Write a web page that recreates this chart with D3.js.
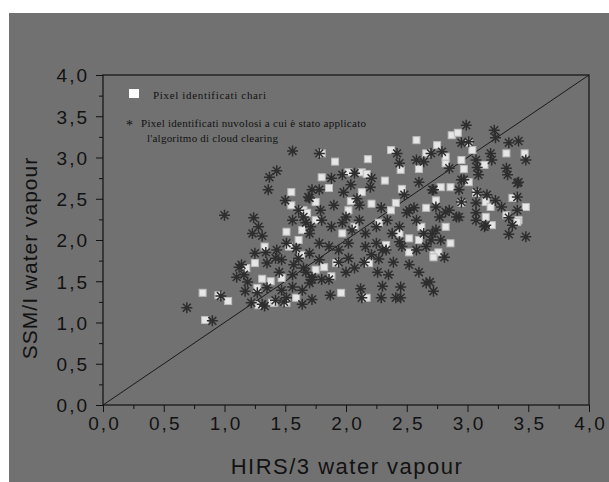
<!DOCTYPE html>
<html>
<head>
<meta charset="utf-8">
<script src="https://cdn.jsdelivr.net/npm/d3@7"></script>
<style>
  body { margin: 0; background: #fff; }
  svg { display: block; }
</style>
</head>
<body>
<svg id="chart" width="609" height="482"></svg>
<script>
// pixels identified as clear (white squares)
const clearPixels = [
  [0.82,1.36],[0.84,1.03],[1.03,1.26],[0.95,1.33],[1.18,1.66],[1.25,1.72],[1.31,1.53],[1.38,1.50],
  [1.27,1.42],[1.28,1.21],[1.39,1.24],[1.51,1.24],[1.55,2.58],[1.55,2.42],[1.65,2.36],[1.75,2.46],
  [1.51,2.10],[1.61,2.00],[1.33,1.92],[1.53,1.92],[1.63,1.82],[1.47,1.54],[1.59,1.30],[1.41,1.24],
  [1.75,1.64],[1.75,2.24],[1.64,2.12],[2.58,3.21],[2.37,3.09],[2.18,2.98],[1.91,2.95],[1.80,3.05],
  [1.80,2.76],[2.02,2.82],[2.13,2.82],[2.17,2.80],[1.86,2.63],[2.32,2.72],[2.13,2.58],[2.45,2.85],
  [2.60,2.86],[2.66,3.05],[2.46,2.62],[2.04,2.47],[2.21,2.44],[2.41,2.45],[1.68,2.33],[2.02,2.36],
  [2.19,1.72],[2.17,1.30],[1.96,1.36],[1.88,1.56],[1.82,1.67],[1.92,1.72],[2.52,1.85],[2.33,1.94],
  [2.60,2.00],[2.75,3.15],[2.87,3.27],[3.01,3.18],[3.04,3.09],[3.32,3.05],[3.47,3.05],[3.14,2.91],
  [2.82,2.93],[2.86,2.64],[3.01,2.70],[3.37,2.51],[3.48,2.40],[3.42,2.24],[3.15,2.28],[3.20,2.18],
  [2.86,1.96],[2.72,1.82],[2.82,2.16],[2.66,2.39],[2.62,2.16],[2.52,2.02],[2.44,2.08],[2.37,2.36],
  [2.27,2.21],[2.07,2.16],[1.97,2.08],[2.92,3.30],[2.82,3.01],[2.95,2.97],[2.97,2.86],[2.78,2.64],
  [3.07,2.57],[3.15,2.46],[2.74,2.48],[2.95,2.45],[3.19,2.40],[3.32,2.30],[3.41,2.22],[2.76,1.85],
  [2.72,1.79]
];

// cloudy pixels after cloud clearing (asterisks)
const cloudPixels = [
  [0.69,1.18],[0.90,1.02],[0.97,1.32],[1.00,2.30],[1.37,2.76],[1.43,2.84],[1.36,2.61],[1.56,3.08],
  [1.12,1.67],[1.16,1.58],[1.19,1.49],[1.17,1.38],[1.27,1.36],[1.33,1.20],[1.42,1.27],[1.49,1.25],
  [1.50,2.48],[1.70,2.51],[1.72,2.61],[1.24,2.27],[1.28,2.16],[1.23,2.08],[1.31,2.05],[1.56,2.24],
  [1.67,2.21],[1.71,2.16],[1.25,1.84],[1.34,1.85],[1.43,1.88],[1.51,1.96],[1.59,1.90],[1.42,1.78],
  [1.47,1.76],[1.14,1.70],[1.10,1.55],[1.35,1.72],[1.45,1.61],[1.56,1.58],[1.65,1.66],[1.72,1.55],
  [1.35,1.42],[1.47,1.39],[1.56,1.43],[1.70,1.48],[1.22,1.24],[1.31,1.22],[1.51,1.30],[1.72,1.28],
  [1.78,3.05],[2.42,3.05],[2.44,2.93],[2.58,2.97],[2.64,2.95],[2.07,2.81],[1.97,2.79],[1.88,2.75],
  [2.21,2.75],[2.04,2.67],[1.98,2.58],[2.20,2.64],[1.78,2.61],[1.69,2.52],[2.09,2.50],[2.48,2.55],
  [2.60,2.70],[1.79,2.36],[1.65,2.28],[2.29,2.39],[2.52,2.36],[2.00,2.28],
  [2.00,1.61],[2.26,1.61],[2.12,1.41],[2.30,1.44],[2.45,1.43],[2.66,1.48],[2.13,1.30],[2.29,1.30],
  [2.41,1.30],[2.45,1.30],[1.87,1.33],[1.64,1.22],[1.64,1.39],[1.72,1.52],[1.80,1.52],[2.27,1.77],
  [2.33,1.88],[2.44,1.98],[1.78,1.76],[1.70,1.84],[1.67,1.61],
  [2.99,3.39],[3.22,3.33],[3.23,3.24],[3.01,3.19],[2.95,3.18],[3.34,3.18],[3.42,3.20],[2.79,3.07],
  [2.70,3.05],[3.48,2.97],[3.19,3.05],[3.07,2.97],[3.20,2.97],[3.08,2.88],[3.32,2.87],[3.09,2.79],
  [3.33,2.79],[2.95,2.73],[3.42,2.70],[2.72,2.61],[3.08,2.58],[3.16,2.55],[3.23,2.48],[3.41,2.52],
  [2.95,2.46],[3.07,2.45],[3.28,2.40],[3.41,2.36],[3.07,2.33],[3.34,2.27],[3.15,2.18],[2.93,2.28],
  [2.82,2.34],[2.74,2.40],[2.85,2.87],[3.34,2.07],[3.48,2.04],[2.81,1.79],[2.78,2.00],[2.72,1.38],
  [2.69,1.49],[2.71,2.08],
  [1.80,2.24],[1.88,2.16],[1.97,2.21],[2.05,2.12],[2.11,2.24],[2.16,2.08],[2.25,2.16],[2.34,2.24],
  [2.38,2.08],[2.44,2.16],[2.50,2.33],[2.56,2.39],[2.58,2.24],[2.64,2.08],[2.70,2.00],[2.74,2.12],
  [2.77,2.28],[2.85,2.36],[2.91,2.28],[2.71,2.61],[2.93,2.61],[2.97,2.73],[2.02,1.96],[2.16,1.92],
  [1.94,1.88],[1.86,1.92],[1.78,1.96],[1.70,2.08],[2.25,1.96],[2.30,1.88],[2.46,1.92],[2.58,1.88],
  [2.66,1.92],[3.14,2.16],[3.07,2.24],[3.41,2.69],[3.37,2.18],
  [1.61,1.78],[1.57,1.70],[1.86,1.52],[1.94,1.73],[2.02,1.78],[2.07,1.66],[2.15,1.73],[2.21,1.82],
  [2.39,1.73],[2.52,1.70],[2.60,1.61],[2.35,1.58],[2.11,2.42],[1.90,2.42],[1.61,2.36]
];

const xTicks = [0, 0.5, 1, 1.5, 2, 2.5, 3, 3.5, 4];
const yTicks = [0, 0.5, 1, 1.5, 2, 2.5, 3, 3.5, 4];
const minorTicks = [0.25, 0.75, 1.25, 1.75, 2.25, 2.75, 3.25, 3.75];
const xTitle = "HIRS/3 water vapour";
const yTitle = "SSM/I water vapour";
const legendClear = "Pixel identificati chari";
const legendCloud = ["Pixel identificati nuvolosi a  cui è stato applicato", "l'algoritmo di cloud clearing"];

const svg = d3.select("#chart");
const plotL = 103, plotR = 589, plotT = 75, plotB = 405;

// grey panel
svg.append("rect").attr("x", 9).attr("y", 13).attr("width", 600).attr("height", 469).attr("fill", "#717171");

const x = d3.scaleLinear().domain([0, 4]).range([plotL, plotR]);
const y = d3.scaleLinear().domain([0, 4]).range([plotB, plotT]);

const fmt = d => d3.format(".1f")(d).replace(".", ",");
const ink = "#121212";
const sans = "Liberation Sans, Arial, sans-serif";

// minor ticks
svg.append("g").attr("transform", `translate(0,${plotB})`)
  .call(d3.axisBottom(x).tickValues(minorTicks).tickSize(4).tickFormat(""))
  .call(g => g.select(".domain").remove());
svg.append("g").attr("transform", `translate(${plotL},0)`)
  .call(d3.axisLeft(y).tickValues(minorTicks).tickSize(4).tickFormat(""))
  .call(g => g.select(".domain").remove());

const xAxis = svg.append("g").attr("transform", `translate(0,${plotB})`)
  .call(d3.axisBottom(x).tickValues(xTicks).tickSize(7).tickPadding(5).tickFormat(fmt));
const yAxis = svg.append("g").attr("transform", `translate(${plotL},0)`)
  .call(d3.axisLeft(y).tickValues(yTicks).tickSize(7).tickPadding(7).tickFormat(fmt));

svg.selectAll(".tick line").attr("stroke", ink);
svg.selectAll(".domain").remove();
[xAxis, yAxis].forEach(a => a.selectAll("text")
  .attr("fill", ink).style("font-family", sans).style("font-size", "19px")
  .style("letter-spacing", "2px"));
xAxis.selectAll("text").attr("dx", "1px");
yAxis.selectAll("text").attr("dy", "0.36em");

// frame
svg.append("rect").attr("x", plotL).attr("y", plotT).attr("width", plotR - plotL).attr("height", plotB - plotT)
  .attr("fill", "none").attr("stroke", ink).attr("stroke-width", 1.2);

// 1:1 line
svg.append("line")
  .attr("x1", x(0)).attr("y1", y(0)).attr("x2", x(4)).attr("y2", y(4))
  .attr("stroke", "#1a1a1a").attr("stroke-width", 1);

// squares
svg.append("g").selectAll("rect").data(clearPixels).join("rect")
  .attr("x", d => x(d[0]) - 3.5).attr("y", d => y(d[1]) - 3.5)
  .attr("width", 7).attr("height", 7)
  .attr("fill", "#e6e6e6").attr("stroke", "#bcbcbc").attr("stroke-width", 1);

// asterisks
const star = r => {
  const a = r * 0.72;
  return `M0,${-r}V${r}M${-r},0H${r}M${-a},${-a}L${a},${a}M${-a},${a}L${a},${-a}`;
};
svg.append("g").selectAll("path").data(cloudPixels).join("path")
  .attr("transform", d => `translate(${x(d[0])},${y(d[1])})`)
  .attr("d", star(5.5))
  .attr("stroke", "#2e2e2e").attr("stroke-width", 1.5).attr("fill", "none");

// legend
const lg = svg.append("g").style("font-family", "Liberation Serif, Times New Roman, serif")
  .style("font-size", "11px").attr("fill", ink);
lg.append("rect").attr("x", 129).attr("y", 89).attr("width", 10).attr("height", 9).attr("fill", "#fff");
lg.append("text").attr("x", 153).attr("y", 99).attr("textLength", 113).text(legendClear);
lg.append("text").attr("x", 126).attr("y", 130).style("font-size", "14px").text("*");
lg.append("text").attr("x", 141).attr("y", 127).attr("textLength", 225).text(legendCloud[0]);
lg.append("text").attr("x", 147).attr("y", 142).attr("textLength", 131).text(legendCloud[1]);

// axis titles
svg.append("text").attr("x", 347).attr("y", 474)
  .attr("text-anchor", "middle").attr("fill", ink)
  .style("font-family", sans).style("font-size", "22px").style("letter-spacing", "1.5px")
  .text(xTitle);
svg.append("text").attr("transform", `translate(37,258) rotate(-90)`)
  .attr("text-anchor", "middle").attr("fill", ink)
  .style("font-family", sans).style("font-size", "21px").style("letter-spacing", "1px")
  .text(yTitle);
</script>
</body>
</html>
